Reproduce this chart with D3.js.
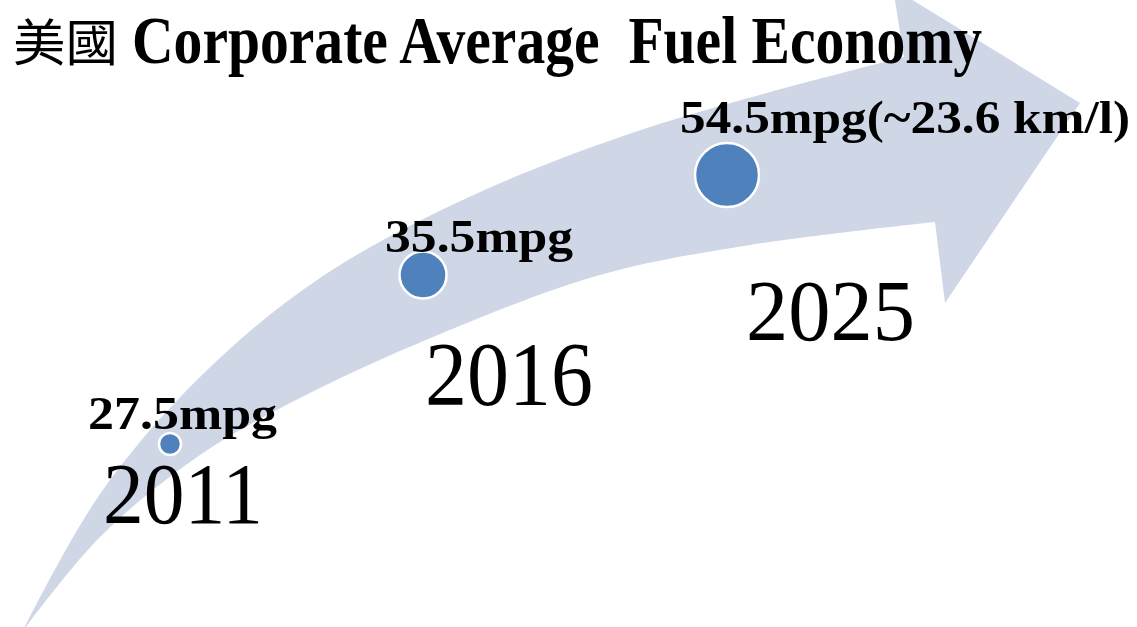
<!DOCTYPE html>
<html>
<head>
<meta charset="utf-8">
<script src="https://cdn.jsdelivr.net/npm/d3@7"></script>
<style>
  html, body { margin: 0; padding: 0; background: #ffffff; }
  svg { display: block; }
  text { white-space: pre; }
</style>
</head>
<body>
<div id="chart"></div>
<script>
// ---------------- data ----------------
const titleCJK = "美國";
const titleEN = "Corporate Average  Fuel Economy";
const years = [2011, 2016, 2025];
const yearLabels = ["2011", "2016", "2025"];
const mpgValues = [27.5, 35.5, 54.5];
const valueLabels = ["27.5mpg", "35.5mpg", "54.5mpg(~23.6 km/l)"];

// ---------------- layout ----------------
const W = 1137, H = 627;
const serif = "'Liberation Serif', 'Times New Roman', serif";

const svg = d3.select("#chart").append("svg")
  .attr("width", W).attr("height", H)
  .attr("viewBox", `0 0 ${W} ${H}`);

// scales placing the milestones along the curved arrow
const x = d3.scaleLinear().domain(years).range([170, 423, 727]);
const y = d3.scaleLinear().domain(mpgValues).range([444, 275, 175]);
const r = d3.scaleLinear().domain(mpgValues).range([11, 23.5, 32]);

// label layout (offsets relative to marks, widths)
const valueLayout = [
  { dx: -82, dy: -15, len: 189, size: 47 },
  { dx: -38, dy: -23, len: 188, size: 47 },
  { dx: -47, dy: -42, len: 450, size: 46 }
];
const yearLayout = [
  { px: 103, py: 523, len: 160, size: 86 },
  { px: 425, py: 405, len: 168, size: 91 },
  { px: 746, py: 340, len: 169, size: 86 }
];

// ---------------- decorative arrow ----------------
const topEdge = [[22, 632], [100, 494], [200, 377], [317, 280], [467, 198], [650, 127], [904, 57]];
const head = [[893, -12], [1080, 103], [945, 303], [935, 222]];
const bottomEdge = [[935, 222], [750, 245], [600, 275], [433, 337], [300, 398], [200, 455], [100, 537], [22, 632]];

const curve = d3.line().curve(d3.curveCatmullRom.alpha(0.5));
const arrowPath = curve(topEdge)
  + head.map(p => "L" + p[0] + "," + p[1]).join("")
  + curve(bottomEdge).replace(/^M/, "L") + "Z";

svg.append("path")
  .attr("d", arrowPath)
  .attr("fill", "#cfd7e7");

// ---------------- title ----------------
const title = svg.append("g").attr("class", "title");
title.append("text")
  .attr("x", 13).attr("y", 61)
  .attr("font-family", "'Noto Sans CJK TC', 'Noto Sans CJK SC', sans-serif")
  .attr("font-size", 50)
  .attr("textLength", 105).attr("lengthAdjust", "spacingAndGlyphs")
  .attr("fill", "#000")
  .text(titleCJK);

title.append("text")
  .attr("x", 132).attr("y", 63)
  .attr("font-family", serif)
  .attr("font-weight", "bold")
  .attr("font-size", 67)
  .attr("textLength", 850).attr("lengthAdjust", "spacingAndGlyphs")
  .attr("fill", "#000")
  .text(titleEN);

// ---------------- milestones ----------------
const pts = years.map((yr, i) => ({ year: yr, mpg: mpgValues[i], label: valueLabels[i], yl: yearLabels[i], i }));

svg.selectAll("circle.pt").data(pts).enter().append("circle")
  .attr("class", "pt")
  .attr("cx", d => x(d.year))
  .attr("cy", d => y(d.mpg))
  .attr("r", d => r(d.mpg))
  .attr("fill", "#4f81bd")
  .attr("stroke", "#ffffff")
  .attr("stroke-width", 2.5);

svg.selectAll("text.val").data(pts).enter().append("text")
  .attr("class", "val")
  .attr("x", d => x(d.year) + valueLayout[d.i].dx)
  .attr("y", d => y(d.mpg) + valueLayout[d.i].dy)
  .attr("font-family", serif)
  .attr("font-weight", "bold")
  .attr("font-size", d => valueLayout[d.i].size)
  .attr("textLength", d => valueLayout[d.i].len).attr("lengthAdjust", "spacingAndGlyphs")
  .attr("fill", "#000")
  .text(d => d.label);

svg.selectAll("text.yr").data(pts).enter().append("text")
  .attr("class", "yr")
  .attr("x", d => yearLayout[d.i].px)
  .attr("y", d => yearLayout[d.i].py)
  .attr("font-family", serif)
  .attr("font-size", d => yearLayout[d.i].size)
  .attr("textLength", d => yearLayout[d.i].len).attr("lengthAdjust", "spacingAndGlyphs")
  .attr("fill", "#000")
  .text(d => d.yl);
</script>
</body>
</html>
